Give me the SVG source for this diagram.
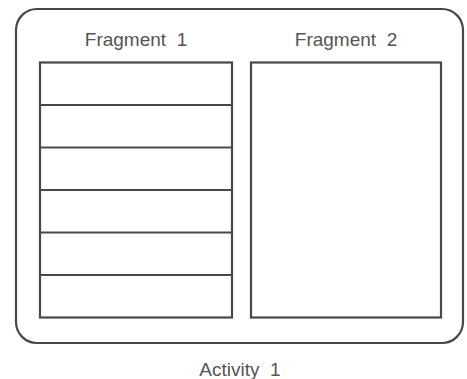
<svg xmlns="http://www.w3.org/2000/svg" width="467" height="379" viewBox="0 0 467 379">
<style>
.box{fill:#fff;stroke:#484848;stroke-width:2.2}
.ln{stroke:#484848;stroke-width:2.2}
.lbl{font-family:"Liberation Sans",Arial,sans-serif;font-size:19px;fill:#555;text-anchor:middle;white-space:pre}
</style>
<rect width="467" height="379" fill="#fff"/>
<g id="activity1">
<rect class="box" x="16" y="9" width="447" height="334" rx="21" ry="21"/>
<text class="lbl" x="240" y="376">Activity  1</text>
</g>
<g id="fragment1">
<text class="lbl" x="136" y="45.5">Fragment  1</text>
<rect class="box" x="40" y="62.5" width="192" height="255"/>
<line class="ln" x1="40" y1="105" x2="232" y2="105"/>
<line class="ln" x1="40" y1="147.5" x2="232" y2="147.5"/>
<line class="ln" x1="40" y1="190" x2="232" y2="190"/>
<line class="ln" x1="40" y1="232.5" x2="232" y2="232.5"/>
<line class="ln" x1="40" y1="275" x2="232" y2="275"/>
</g>
<g id="fragment2">
<text class="lbl" x="346" y="45.5">Fragment  2</text>
<rect class="box" x="251" y="62.5" width="190" height="255"/>
</g>
<g id="connectors"></g>
</svg>
